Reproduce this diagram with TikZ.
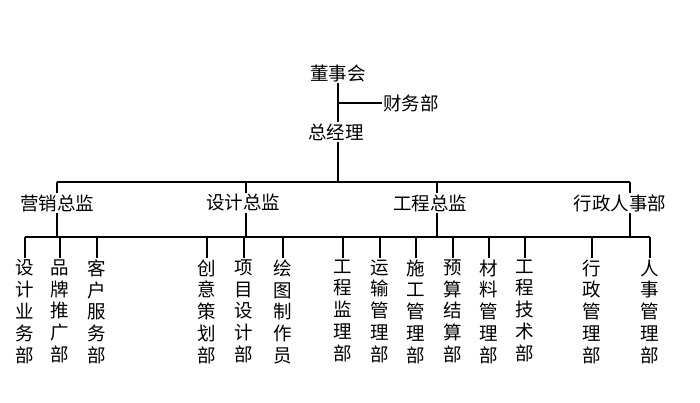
\documentclass[tikz,border=0pt]{standalone}
\usepackage{fontspec}
\newfontfamily\cjk{Noto Sans CJK SC}
\usetikzlibrary{positioning}

\begin{document}
\begin{tikzpicture}[
  x=1pt, y=-1pt,
  line width=1.2pt,
  font=\cjk\fontsize{18.5}{21.8}\selectfont,
  lbl/.style={inner sep=1pt},
  col/.style={inner sep=1pt, anchor=north, align=center}
]
\useasboundingbox (0,0) rectangle (700,402);

% Top nodes
\node[lbl] (board) at (338,73) {董事会};
\node[lbl] (ceo) at (336,132) {总经理};
\node[lbl] (fin) at (411,103) {财务部};
\coordinate (finj) at (338,103);
\draw (board) -- (board|-ceo.north);
\draw (finj) -- (fin.west);

% Directors
\coordinate (topbar) at (338,182);
\draw (ceo.south-|topbar) -- (topbar);
\draw (57,182) -- (630,182);
\foreach \name/\x/\lx/\txt in {mkt/57/57/营销总监, des/246/243/设计总监, eng/437/430/工程总监, adm/630/620/行政人事部}{
  \node[lbl] (\name) at (\lx,203) {\txt};
  \coordinate (\name top) at (\x,182);
  \coordinate (\name bot) at (\x,237);
  \draw (\name top) -- (\name top|-\name.north);
  \draw (\name bot|-\name.south) -- (\name bot);
}

% Departments
\draw (25,237) -- (650,237);
\foreach \name/\x/\txt in {
  d1/25/设\\计\\业\\务\\部, d2/60/品\\牌\\推\\广\\部, d3/97/客\\户\\服\\务\\部,
  d4/207/创\\意\\策\\划\\部, d5/244/项\\目\\设\\计\\部, d6/283/绘\\图\\制\\作\\员,
  d7/343/工\\程\\监\\理\\部, d8/380/运\\输\\管\\理\\部, d9/416/施\\工\\管\\理\\部,
  d10/453/预\\算\\结\\算\\部, d11/489/材\\料\\管\\理\\部, d12/525/工\\程\\技\\术\\部,
  d13/592/行\\政\\管\\理\\部, d14/650/人\\事\\管\\理\\部}{
  \node[col] (\name) at (\x,258) {\txt};
  \coordinate (\name j) at (\x,237);
  \draw (\name j) -- (\name.north);
}

\end{tikzpicture}
\end{document}
